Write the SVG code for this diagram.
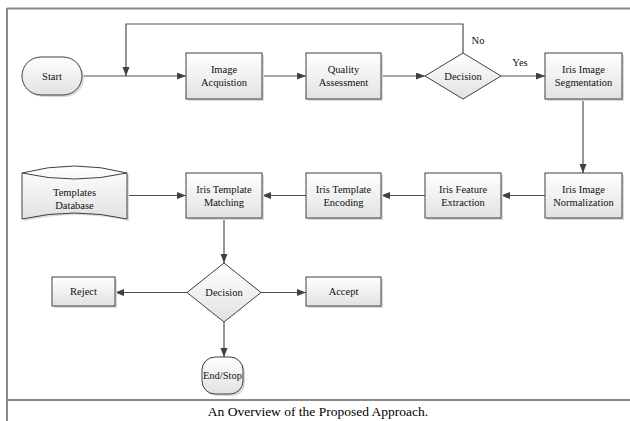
<svg xmlns="http://www.w3.org/2000/svg" width="630" height="421" viewBox="0 0 630 421">
<defs>
<linearGradient id="fillg" x1="0" y1="0" x2="0" y2="1">
<stop offset="0" stop-color="#ffffff"/>
<stop offset="1" stop-color="#e2e2e2"/>
</linearGradient>
<marker id="arr" markerUnits="userSpaceOnUse" markerWidth="10" markerHeight="8" refX="9" refY="3.5" orient="auto">
<path d="M0,0 L9,3.5 L0,7 z" fill="#404040"/>
</marker>
</defs>
<style>
.frame{stroke:#8a8a8a;stroke-width:2;fill:none}
.shape{fill:url(#fillg);stroke:#404040;stroke-width:1}
.shadow{fill:#dadada;stroke:none}
.conn{stroke:#505050;stroke-width:1.2;fill:none}
.lbl{font-family:'Liberation Serif','Times New Roman',serif;font-size:10.5px;fill:#111;text-anchor:middle}
.cap{font-family:'Liberation Serif','Times New Roman',serif;font-size:13.5px;fill:#000;text-anchor:middle}
</style>
<rect x="0" y="0" width="630" height="421" fill="#ffffff"/>
<g id="frame">
<line class="frame" x1="7" y1="8.5" x2="630" y2="8.5"/>
<line class="frame" x1="7" y1="8" x2="7" y2="421"/>
<line class="frame" x1="7" y1="400" x2="630" y2="400"/>
</g>
<g id="connectors">
<line class="conn" x1="82" y1="76" x2="186" y2="76" marker-end="url(#arr)"/>
<polyline class="conn" points="463,53 463,24 126,24 126,76" marker-end="url(#arr)"/>
<line class="conn" x1="262" y1="76" x2="306" y2="76" marker-end="url(#arr)"/>
<line class="conn" x1="381" y1="76" x2="425" y2="76" marker-end="url(#arr)"/>
<line class="conn" x1="501" y1="76" x2="545" y2="76" marker-end="url(#arr)"/>
<line class="conn" x1="583" y1="99" x2="583" y2="173" marker-end="url(#arr)"/>
<line class="conn" x1="545" y1="195.5" x2="501" y2="195.5" marker-end="url(#arr)"/>
<line class="conn" x1="425" y1="195.5" x2="381" y2="195.5" marker-end="url(#arr)"/>
<line class="conn" x1="306" y1="195.5" x2="262" y2="195.5" marker-end="url(#arr)"/>
<line class="conn" x1="127" y1="195.5" x2="186" y2="195.5" marker-end="url(#arr)"/>
<line class="conn" x1="224" y1="218" x2="224" y2="263" marker-end="url(#arr)"/>
<line class="conn" x1="187" y1="292.5" x2="115" y2="292.5" marker-end="url(#arr)"/>
<line class="conn" x1="261" y1="292.5" x2="306" y2="292.5" marker-end="url(#arr)"/>
<line class="conn" x1="224" y1="322" x2="224" y2="357" marker-end="url(#arr)"/>
<text class="lbl" x="478" y="44">No</text>
<text class="lbl" x="520" y="66">Yes</text>
</g>
<g id="start">
<rect class="shadow" x="24" y="59" width="60" height="38" rx="19"/>
<rect class="shape" x="22" y="57" width="60" height="38" rx="19"/>
<text class="lbl" x="52" y="79.7">Start</text>
</g>
<g id="image-acquisition">
<rect class="shadow" x="188" y="55" width="76" height="46"/>
<rect class="shape" x="186" y="53" width="76" height="46"/>
<text class="lbl" x="224" y="73">Image</text>
<text class="lbl" x="224" y="86">Acquistion</text>
</g>
<g id="quality-assessment">
<rect class="shadow" x="308" y="55" width="75" height="46"/>
<rect class="shape" x="306" y="53" width="75" height="46"/>
<text class="lbl" x="343.5" y="73">Quality</text>
<text class="lbl" x="343.5" y="86">Assessment</text>
</g>
<g id="decision1">
<polygon class="shape" points="463,53 501,76 463,99 425,76"/>
<text class="lbl" x="463" y="79.7">Decision</text>
</g>
<g id="segmentation">
<rect class="shadow" x="547" y="55" width="77" height="46"/>
<rect class="shape" x="545" y="53" width="77" height="46"/>
<text class="lbl" x="583.5" y="73">Iris Image</text>
<text class="lbl" x="583.5" y="86">Segmentation</text>
</g>
<g id="normalization">
<rect class="shadow" x="547" y="175" width="77" height="45"/>
<rect class="shape" x="545" y="173" width="77" height="45"/>
<text class="lbl" x="583.5" y="192.5">Iris Image</text>
<text class="lbl" x="583.5" y="205.5">Normalization</text>
</g>
<g id="feature-extraction">
<rect class="shadow" x="427" y="175" width="76" height="45"/>
<rect class="shape" x="425" y="173" width="76" height="45"/>
<text class="lbl" x="463" y="192.5">Iris Feature</text>
<text class="lbl" x="463" y="205.5">Extraction</text>
</g>
<g id="template-encoding">
<rect class="shadow" x="308" y="175" width="75" height="45"/>
<rect class="shape" x="306" y="173" width="75" height="45"/>
<text class="lbl" x="343.5" y="192.5">Iris Template</text>
<text class="lbl" x="343.5" y="205.5">Encoding</text>
</g>
<g id="template-matching">
<rect class="shadow" x="188" y="175" width="76" height="45"/>
<rect class="shape" x="186" y="173" width="76" height="45"/>
<text class="lbl" x="224" y="192.5">Iris Template</text>
<text class="lbl" x="224" y="205.5">Matching</text>
</g>
<g id="templates-database">
<path class="shadow" d="M24,175 Q76.5,161 129,175 L129,221 Q76.5,209 24,221 Z"/>
<path class="shape" d="M22,173 Q74.5,159 127,173 L127,219 Q74.5,207 22,219 Z"/>
<path d="M22,173 Q74.5,185 127,173" fill="none" stroke="#404040" stroke-width="1"/>
<text class="lbl" x="74.5" y="196">Templates</text>
<text class="lbl" x="74.5" y="209">Database</text>
</g>
<g id="decision2">
<polygon class="shape" points="224,263 261,292.5 224,322 187,292.5"/>
<text class="lbl" x="224" y="296.2">Decision</text>
</g>
<g id="reject">
<rect class="shadow" x="54" y="279" width="63" height="29"/>
<rect class="shape" x="52" y="277" width="63" height="29"/>
<text class="lbl" x="83.5" y="295.2">Reject</text>
</g>
<g id="accept">
<rect class="shadow" x="308" y="279" width="75" height="29"/>
<rect class="shape" x="306" y="277" width="75" height="29"/>
<text class="lbl" x="343.5" y="295.2">Accept</text>
</g>
<g id="end-stop">
<rect class="shadow" x="204" y="359" width="41" height="37" rx="13"/>
<rect class="shape" x="202" y="357" width="41" height="37" rx="13"/>
<text class="lbl" x="222.5" y="379.2" font-size="10px">End/Stop</text>
</g>
<text class="cap" x="318" y="415.5">An Overview of the Proposed Approach.</text>
</svg>
